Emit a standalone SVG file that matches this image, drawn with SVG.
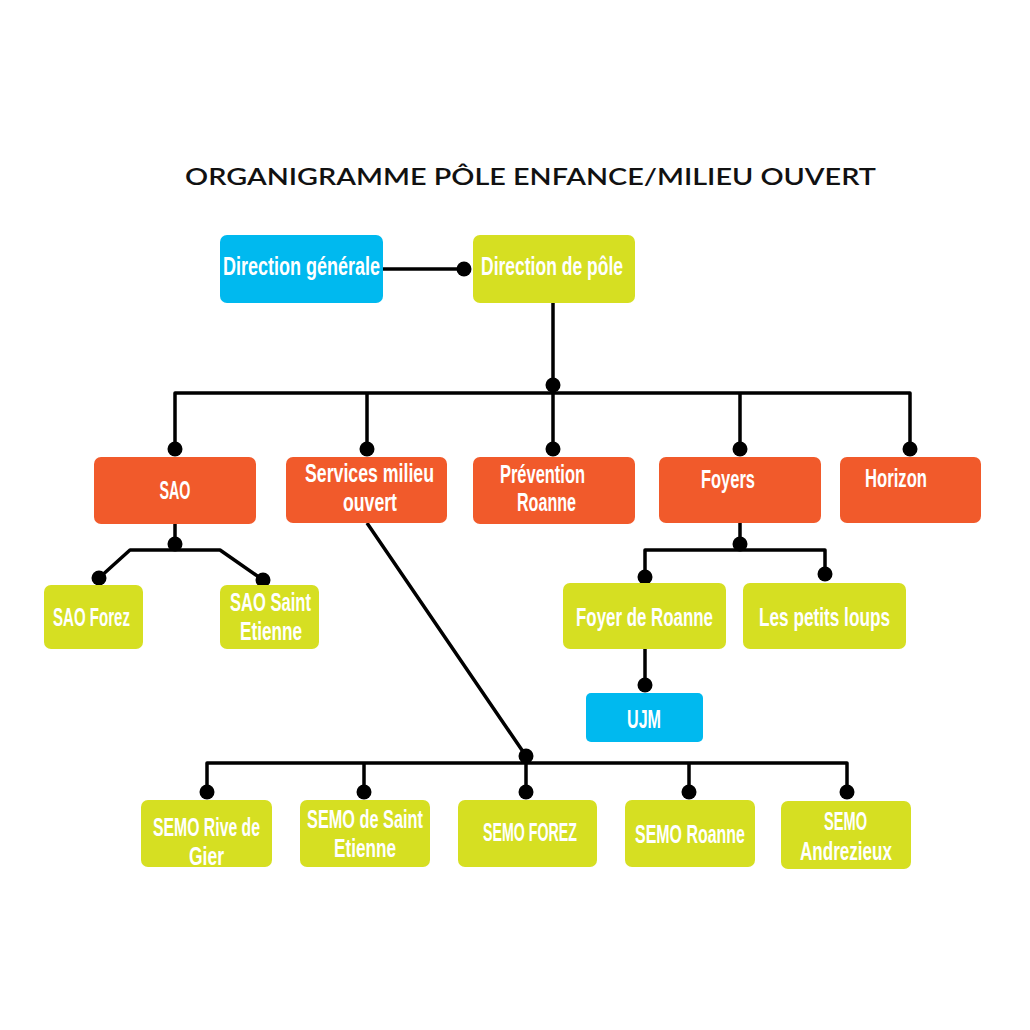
<svg xmlns="http://www.w3.org/2000/svg" width="1030" height="1030" viewBox="0 0 1030 1030">
<style>
.blue{fill:#00B9EF}
.green{fill:#D6DF22}
.orange{fill:#F15A2B}
.lbl{fill:#fff;font-family:"Liberation Sans",Arial,sans-serif;font-weight:700;font-size:26px;text-anchor:middle}
.title{fill:#111;font-family:Lato,"Noto Sans",sans-serif;font-weight:600;font-size:22px}
.ln{stroke:#000;stroke-width:3.5;fill:none;stroke-linejoin:round}
.dot{fill:#000}
</style>
<rect width="1030" height="1030" fill="#fff"/>
<text class="title" x="185" y="185" textLength="691" lengthAdjust="spacingAndGlyphs">ORGANIGRAMME PÔLE ENFANCE/MILIEU OUVERT</text>

<g id="connectors">
  <path class="ln" d="M383 269H464"/>
  <circle class="dot" cx="464" cy="269" r="7.5"/>
  <path class="ln" d="M553 303V449"/>
  <circle class="dot" cx="553" cy="385" r="7.5"/>
  <path class="ln" d="M175 449V393H910V449M367 393V449M740 393V449"/>
  <circle class="dot" cx="175" cy="449" r="7.5"/>
  <circle class="dot" cx="367" cy="449" r="7.5"/>
  <circle class="dot" cx="553" cy="449" r="7.5"/>
  <circle class="dot" cx="740" cy="449" r="7.5"/>
  <circle class="dot" cx="910" cy="449" r="7.5"/>
  <!-- SAO -->
  <path class="ln" d="M175 524V550M99 578L130 550H220L263 580"/>
  <circle class="dot" cx="175" cy="544" r="7.5"/>
  <circle class="dot" cx="99" cy="578" r="7.5"/>
  <circle class="dot" cx="263" cy="580" r="7.5"/>
  <!-- Foyers -->
  <path class="ln" d="M740 523V550M645 577V550H825V574"/>
  <circle class="dot" cx="740" cy="544" r="7.5"/>
  <circle class="dot" cx="645" cy="577" r="7.5"/>
  <circle class="dot" cx="825" cy="574" r="7.5"/>
  <path class="ln" d="M645 649V685"/>
  <circle class="dot" cx="645" cy="685" r="7.5"/>
  <!-- Services milieu ouvert -->
  <path class="ln" d="M367 523L526 756V792"/>
  <circle class="dot" cx="526" cy="756" r="7.5"/>
  <path class="ln" d="M207 792V763H847V792M364 763V792M689 763V792"/>
  <circle class="dot" cx="207" cy="792" r="7.5"/>
  <circle class="dot" cx="364" cy="792" r="7.5"/>
  <circle class="dot" cx="526" cy="792" r="7.5"/>
  <circle class="dot" cx="689" cy="792" r="7.5"/>
  <circle class="dot" cx="847" cy="792" r="7.5"/>
</g>

<g id="direction-generale"><rect class="blue" x="220" y="235" width="163" height="68" rx="7"/><text class="lbl" x="301.5" y="275" textLength="157" lengthAdjust="spacingAndGlyphs">Direction générale</text></g>
<g id="direction-pole"><rect class="green" x="473" y="235" width="162" height="68" rx="7"/><text class="lbl" x="552" y="275" textLength="142" lengthAdjust="spacingAndGlyphs">Direction de pôle</text></g>

<g id="sao"><rect class="orange" x="94" y="457" width="162" height="67" rx="7"/><text class="lbl" x="175" y="499" textLength="31" lengthAdjust="spacingAndGlyphs">SAO</text></g>
<g id="services-milieu-ouvert"><rect class="orange" x="286" y="457" width="161" height="66" rx="7"/><text class="lbl" x="369.5" y="482" textLength="129" lengthAdjust="spacingAndGlyphs">Services milieu</text><text class="lbl" x="370" y="511" textLength="54" lengthAdjust="spacingAndGlyphs">ouvert</text></g>
<g id="prevention-roanne"><rect class="orange" x="473" y="457" width="162" height="67" rx="7"/><text class="lbl" x="542.5" y="483" textLength="85" lengthAdjust="spacingAndGlyphs">Prévention</text><text class="lbl" x="546.5" y="511" textLength="59" lengthAdjust="spacingAndGlyphs">Roanne</text></g>
<g id="foyers"><rect class="orange" x="659" y="457" width="162" height="66" rx="7"/><text class="lbl" x="728" y="488" textLength="54" lengthAdjust="spacingAndGlyphs">Foyers</text></g>
<g id="horizon"><rect class="orange" x="840" y="457" width="141" height="66" rx="7"/><text class="lbl" x="896" y="487" textLength="62" lengthAdjust="spacingAndGlyphs">Horizon</text></g>

<g id="sao-forez"><rect class="green" x="44" y="585" width="99" height="64" rx="7"/><text class="lbl" x="91.5" y="626" textLength="77" lengthAdjust="spacingAndGlyphs">SAO Forez</text></g>
<g id="sao-saint-etienne"><rect class="green" x="220" y="585" width="99" height="64" rx="7"/><text class="lbl" x="270.5" y="611" textLength="81" lengthAdjust="spacingAndGlyphs">SAO  Saint</text><text class="lbl" x="271" y="640" textLength="62" lengthAdjust="spacingAndGlyphs">Etienne</text></g>

<g id="foyer-de-roanne"><rect class="green" x="563" y="583" width="163" height="66" rx="7"/><text class="lbl" x="644.5" y="626" textLength="137" lengthAdjust="spacingAndGlyphs">Foyer de Roanne</text></g>
<g id="les-petits-loups"><rect class="green" x="743" y="583" width="163" height="66" rx="7"/><text class="lbl" x="824.5" y="626" textLength="131" lengthAdjust="spacingAndGlyphs">Les petits loups</text></g>
<g id="ujm"><rect class="blue" x="586" y="693" width="117" height="49" rx="5"/><text class="lbl" x="644" y="728" textLength="34" lengthAdjust="spacingAndGlyphs">UJM</text></g>

<g id="semo-rive-de-gier"><rect class="green" x="141" y="800" width="131" height="67" rx="7"/><text class="lbl" x="206.5" y="836" textLength="107" lengthAdjust="spacingAndGlyphs">SEMO Rive de</text><text class="lbl" x="206.5" y="865" textLength="35" lengthAdjust="spacingAndGlyphs">Gier</text></g>
<g id="semo-saint-etienne"><rect class="green" x="300" y="800" width="130" height="67" rx="7"/><text class="lbl" x="365" y="828" textLength="116" lengthAdjust="spacingAndGlyphs">SEMO de Saint</text><text class="lbl" x="365" y="857" textLength="62" lengthAdjust="spacingAndGlyphs">Etienne</text></g>
<g id="semo-forez"><rect class="green" x="458" y="800" width="139" height="67" rx="7"/><text class="lbl" x="530" y="841" textLength="94" lengthAdjust="spacingAndGlyphs">SEMO FOREZ</text></g>
<g id="semo-roanne"><rect class="green" x="625" y="800" width="130" height="67" rx="7"/><text class="lbl" x="690" y="843" textLength="110" lengthAdjust="spacingAndGlyphs">SEMO Roanne</text></g>
<g id="semo-andrezieux"><rect class="green" x="781" y="801" width="130" height="68" rx="7"/><text class="lbl" x="845.5" y="830" textLength="43" lengthAdjust="spacingAndGlyphs">SEMO</text><text class="lbl" x="846" y="860" textLength="92" lengthAdjust="spacingAndGlyphs">Andrezieux</text></g>
</svg>
